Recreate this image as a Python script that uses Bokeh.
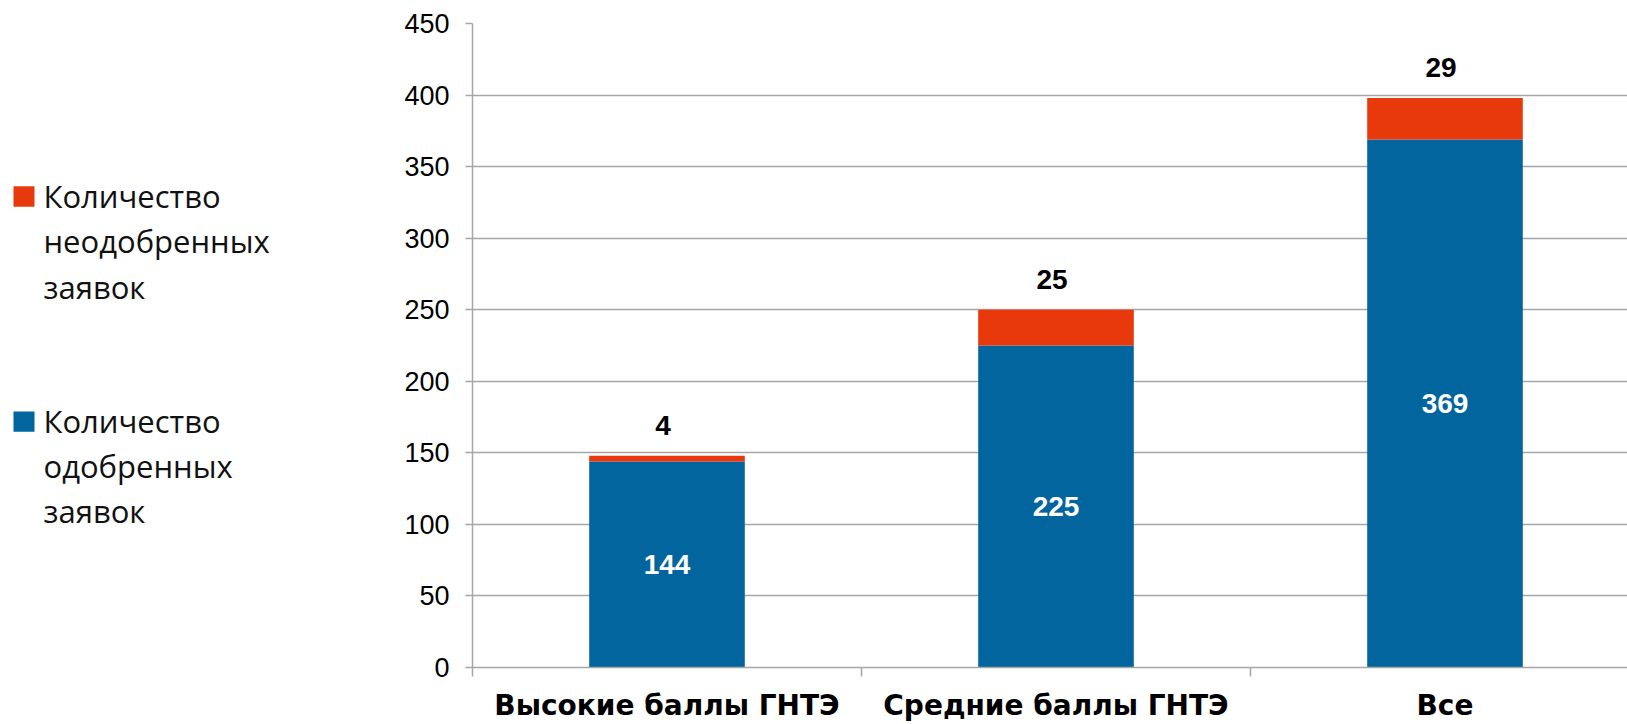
from bokeh.plotting import figure
from bokeh.models import Range1d, FixedTicker, ColumnDataSource
from bokeh.layouts import row
from bokeh.core.properties import value
from bokeh.embed import file_html
from bokeh.resources import INLINE

categories = ["Высокие баллы ГНТЭ", "Средние баллы ГНТЭ", "Все"]
approved = [144, 225, 369]
rejected = [4, 25, 29]
series_names = [["Количество", "неодобренных", "заявок"],
                ["Количество", "одобренных", "заявок"]]
y_ticks = list(range(0, 451, 50))

BLUE = "#02659E"
ORANGE = "#E8390D"
GRID = "#A6A6A6"

# ---------- layout constants ----------
W_LEG = 398
W_MAIN = 1627 - W_LEG
H = 724
TOP = 23
BOTTOM = 56

xs = [i + 0.5 for i in range(len(categories))]
totals = [a + r for a, r in zip(approved, rejected)]

p = figure(width=W_MAIN, height=H, output_backend="svg", toolbar_location=None,
           x_range=Range1d(0, 1155 / 389), y_range=Range1d(0, 450),
           min_border_left=74, min_border_right=0, min_border_top=TOP, min_border_bottom=BOTTOM)
p.outline_line_color = None
p.background_fill_color = "white"
p.border_fill_color = "white"

src = ColumnDataSource(dict(x=xs, approved=approved, rejected=rejected, total=totals,
                            mid=[a / 2 for a in approved],
                            at=[str(a) for a in approved], rt=[str(r) for r in rejected]))

p.vbar(x="x", width=0.4, bottom=0, top="approved", source=src, fill_color=BLUE, line_color=None)
p.vbar(x="x", width=0.4, bottom="approved", top="total", source=src, fill_color=ORANGE, line_color=None)

p.text(x="x", y="mid", text="at", source=src, text_color="white",
       text_font=value("Liberation Sans"), text_font_style="bold", text_font_size="28px",
       text_align="center", text_baseline="middle")
p.text(x="x", y="total", text="rt", source=src, text_color="black",
       text_font=value("Liberation Sans"), text_font_style="bold", text_font_size="28px",
       text_align="center", text_baseline="middle", y_offset=-30, x_offset=-4)

# axes
p.yaxis.ticker = FixedTicker(ticks=y_ticks)
p.yaxis.axis_line_color = GRID
p.yaxis.axis_line_width = 1.5
p.yaxis.major_tick_line_color = GRID
p.yaxis.major_tick_line_width = 1.5
p.yaxis.major_tick_in = 0
p.yaxis.major_tick_out = 7
p.yaxis.minor_tick_line_color = None
p.yaxis.major_label_standoff = 16
p.yaxis.major_label_text_font = "Liberation Sans"
p.yaxis.major_label_text_font_size = "27px"
p.yaxis.major_label_text_color = "black"

p.xaxis.ticker = FixedTicker(ticks=xs, minor_ticks=list(range(len(categories) + 1)))
p.xaxis.major_label_overrides = {x: c for x, c in zip(xs, categories)}
p.xaxis.axis_line_color = GRID
p.xaxis.axis_line_width = 1.5
p.xaxis.major_tick_line_color = None
p.xaxis.major_tick_in = 0
p.xaxis.major_tick_out = 0
p.xaxis.minor_tick_line_color = GRID
p.xaxis.minor_tick_line_width = 1.5
p.xaxis.minor_tick_in = 0
p.xaxis.minor_tick_out = 9
p.xaxis.major_label_standoff = 12
p.xaxis.major_label_text_font = "DejaVu Sans"
p.xaxis.major_label_text_font_style = "bold"
p.xaxis.major_label_text_font_size = "28px"
p.xaxis.major_label_text_color = "black"

p.xgrid.grid_line_color = None
p.ygrid.ticker = FixedTicker(ticks=y_ticks)
p.ygrid.grid_line_color = GRID
p.ygrid.grid_line_width = 1.5

# ---------- legend panel (data coords == page pixels) ----------
leg = figure(width=W_LEG, height=H, output_backend="svg", toolbar_location=None,
             x_range=Range1d(0, W_LEG), y_range=Range1d(H - BOTTOM, TOP),
             min_border_left=0, min_border_right=0,
             min_border_top=TOP, min_border_bottom=BOTTOM)
leg.outline_line_color = None
leg.axis.visible = False
leg.grid.visible = False

sw_top = [186, 411.5]
colors = [ORANGE, BLUE]
leg.quad(left=[13, 13], right=[34, 34], top=sw_top, bottom=[t + 20.5 for t in sw_top],
         fill_color=colors, line_color=None)

lx, ly, lt = [], [], []
base = [196, 421]
for names, b in zip(series_names, base):
    for i, n in enumerate(names):
        lx.append(43)
        ly.append(b + i * 45.3)
        lt.append(n)
leg.text(x=lx, y=ly, text=lt, text_font=value("Open Sans"), text_font_size="31px",
         text_color="#111111", text_baseline="alphabetic", text_align="left")

layout = row(leg, p, spacing=0)
open("out.html", "w").write(file_html(layout, INLINE))
